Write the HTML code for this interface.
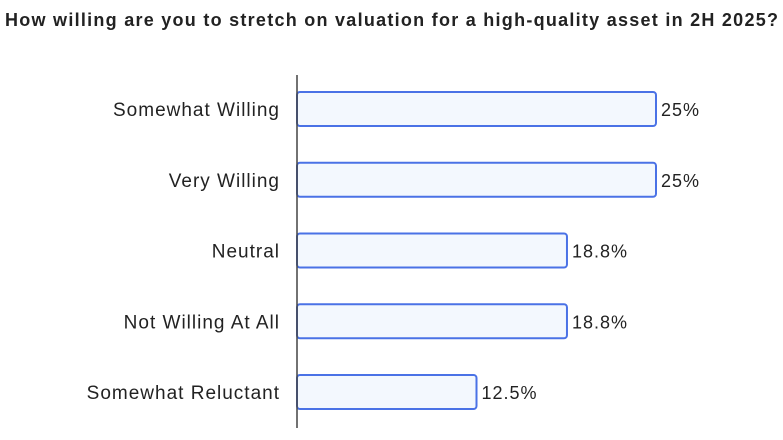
<!DOCTYPE html>
<html><head><meta charset="utf-8"><style>
body{margin:0;background:#fff;width:783px;height:435px;overflow:hidden;font-family:"Liberation Sans",sans-serif}
</style></head><body>
<svg width="783" height="435">
<text x="5" y="26" font-size="18" font-weight="bold" fill="#222" textLength="773" lengthAdjust="spacing">How willing are you to stretch on valuation for a high-quality asset in 2H 2025?</text>
<g id="bars"></g>
<line x1="297" y1="75" x2="297" y2="428" stroke="#444" stroke-width="1.5"/>
</svg>
<script>
const categories=["Somewhat Willing","Very Willing","Neutral","Not Willing At All","Somewhat Reluctant"];
const values=[25,25,18.8,18.8,12.5];
const valueLabels=["25%","25%","18.8%","18.8%","12.5%"];
const x0=297,scale=14.36,y0=109,step=70.75,bh=34;
const xs=v=>x0+v*scale, ys=i=>y0+i*step;
const g=document.getElementById('bars'),ns="http://www.w3.org/2000/svg";
categories.forEach((c,i)=>{
  const r=document.createElementNS(ns,'rect');
  r.setAttribute('x',x0);r.setAttribute('y',ys(i)-bh/2);
  r.setAttribute('width',xs(values[i])-x0);r.setAttribute('height',bh);
  r.setAttribute('rx',3);r.setAttribute('fill','#f3f8fe');r.setAttribute('stroke','#4a72e6');r.setAttribute('stroke-width','2');
  
  
  g.appendChild(r);
  const t=document.createElementNS(ns,'text');
  t.setAttribute('x',280);t.setAttribute('y',ys(i)+7);t.setAttribute('text-anchor','end');
  t.setAttribute('font-size','19');t.setAttribute('letter-spacing','1');t.setAttribute('fill','#222');t.textContent=c;
  
  
  g.appendChild(t);
  const v=document.createElementNS(ns,'text');
  v.setAttribute('x',xs(values[i])+5);v.setAttribute('y',ys(i)+7);
  v.setAttribute('font-size','18');v.setAttribute('letter-spacing','1');v.setAttribute('fill','#222');v.textContent=valueLabels[i];
  
  
  g.appendChild(v);
});
</script>
</body></html>
